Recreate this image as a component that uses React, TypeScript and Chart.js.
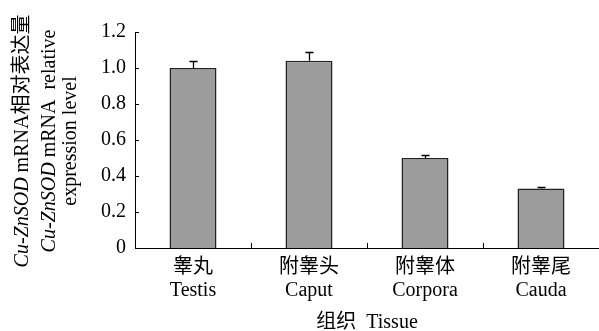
import React, { useEffect, useRef } from 'react';
import { Chart, registerables } from 'chart.js';

Chart.register(...registerables);

const categoriesZh = ['睾丸', '附睾头', '附睾体', '附睾尾'];
const categoriesEn = ['Testis', 'Caput', 'Corpora', 'Cauda'];
const values = [1.0, 1.04, 0.5, 0.33];
const errors = [0.04, 0.05, 0.014, 0.007];
const yTickLabels = ['0', '0.2', '0.4', '0.6', '0.8', '1.0', '1.2'];
const xTitle = '组织  Tissue';
const yTitleLines = [
  [
    { text: 'Cu-ZnSOD', italic: true },
    { text: ' mRNA相对表达量', italic: false },
  ],
  [
    { text: 'Cu-ZnSOD', italic: true },
    { text: ' mRNA  relative', italic: false },
  ],
  [{ text: 'expression level', italic: false }],
];
const yTitleBaselines = [28, 55, 76];

const SERIF = "'Liberation Serif', 'Times New Roman', 'Noto Sans CJK SC', serif";
const FONT_SIZE = 20;

const overlayPlugin = {
  id: 'overlay',
  afterDatasetsDraw(chart: any) {
    const ctx: CanvasRenderingContext2D = chart.ctx;
    const xs = chart.scales.x;
    const ys = chart.scales.y;
    const { left, bottom, top } = chart.chartArea;
    ctx.save();
    // error bars
    ctx.strokeStyle = '#000';
    ctx.lineWidth = 1.3;
    values.forEach((v, i) => {
      const px = Math.round(xs.getPixelForValue(i)) + 0.5;
      const base = ys.getPixelForValue(v);
      const tip = Math.round(ys.getPixelForValue(v + errors[i])) + 0.5;
      ctx.beginPath();
      ctx.moveTo(px, base);
      ctx.lineTo(px, tip);
      ctx.moveTo(px - 4, tip);
      ctx.lineTo(px + 4, tip);
      ctx.stroke();
    });
    // inward tick marks
    ctx.lineWidth = 1;
    ys.ticks.forEach((t: any) => {
      const py = Math.round(ys.getPixelForValue(t.value)) + 0.5;
      ctx.beginPath();
      ctx.moveTo(left, py);
      ctx.lineTo(left + 4, py);
      ctx.stroke();
    });
    for (let i = 1; i < values.length; i++) {
      const px = Math.round((xs.getPixelForValue(i - 1) + xs.getPixelForValue(i)) / 2) + 0.5;
      ctx.beginPath();
      ctx.moveTo(px, bottom);
      ctx.lineTo(px, bottom - 5);
      ctx.stroke();
    }
    // rotated y-axis title with italic segments
    const cy = (top + bottom) / 2 + 1;
    ctx.fillStyle = '#000';
    ctx.textBaseline = 'alphabetic';
    ctx.textAlign = 'left';
    yTitleLines.forEach((segs, li) => {
      let total = 0;
      const widths = segs.map((s) => {
        ctx.font = `${s.italic ? 'italic ' : ''}${FONT_SIZE}px ${SERIF}`;
        const w = ctx.measureText(s.text).width;
        total += w;
        return w;
      });
      ctx.save();
      ctx.translate(yTitleBaselines[li], cy);
      ctx.rotate(-Math.PI / 2);
      let x = -total / 2;
      segs.forEach((s, si) => {
        ctx.font = `${s.italic ? 'italic ' : ''}${FONT_SIZE}px ${SERIF}`;
        ctx.fillText(s.text, x, 0);
        x += widths[si];
      });
      ctx.restore();
    });
    ctx.restore();
  },
};

export default function App() {
  const canvasRef = useRef<HTMLCanvasElement | null>(null);

  useEffect(() => {
    const canvas = canvasRef.current;
    if (!canvas) return;
    const chart = new Chart(canvas, {
      type: 'bar',
      data: {
        labels: categoriesZh.map((zh, i) => [zh, categoriesEn[i]]),
        datasets: [
          {
            data: values,
            backgroundColor: '#9c9c9c',
            borderColor: '#222',
            borderWidth: 1.5,
            barPercentage: 0.405,
            categoryPercentage: 1,
          },
        ],
      },
      options: {
        responsive: false,
        maintainAspectRatio: false,
        devicePixelRatio: 1,
        animation: false,
        layout: { padding: { top: 32, left: 0, right: 0, bottom: 0 } },
        plugins: {
          legend: { display: false },
          tooltip: { enabled: false },
        },
        scales: {
          x: {
            grid: { display: false, drawTicks: false },
            border: { display: true, color: '#000', width: 1 },
            ticks: {
              color: '#000',
              padding: 8,
              font: { family: SERIF, size: FONT_SIZE, lineHeight: 1.15 },
              maxRotation: 0,
              autoSkip: false,
            },
            title: {
              display: true,
              text: xTitle,
              color: '#000',
              font: { family: SERIF, size: FONT_SIZE, lineHeight: 0.8 },
              padding: { top: 0, bottom: 0 },
            },
            afterFit: (s: any) => {
              s.height = 83;
            },
          },
          y: {
            min: 0,
            max: 1.2,
            grid: { display: false, drawTicks: false },
            border: { display: true, color: '#000', width: 1 },
            ticks: {
              stepSize: 0.2,
              color: '#000',
              padding: 9,
              font: { family: SERIF, size: FONT_SIZE },
              callback: (_v: any, i: number) => yTickLabels[i],
            },
            afterFit: (s: any) => {
              s.width = 135;
            },
          },
        },
      },
      plugins: [overlayPlugin],
    });
    return () => chart.destroy();
  }, []);

  return (
    <div style={{ position: 'absolute', left: 0, top: 0, width: 599, height: 331, background: '#fff' }}>
      <canvas ref={canvasRef} width={599} height={331} style={{ display: 'block' }} />
    </div>
  );
}
